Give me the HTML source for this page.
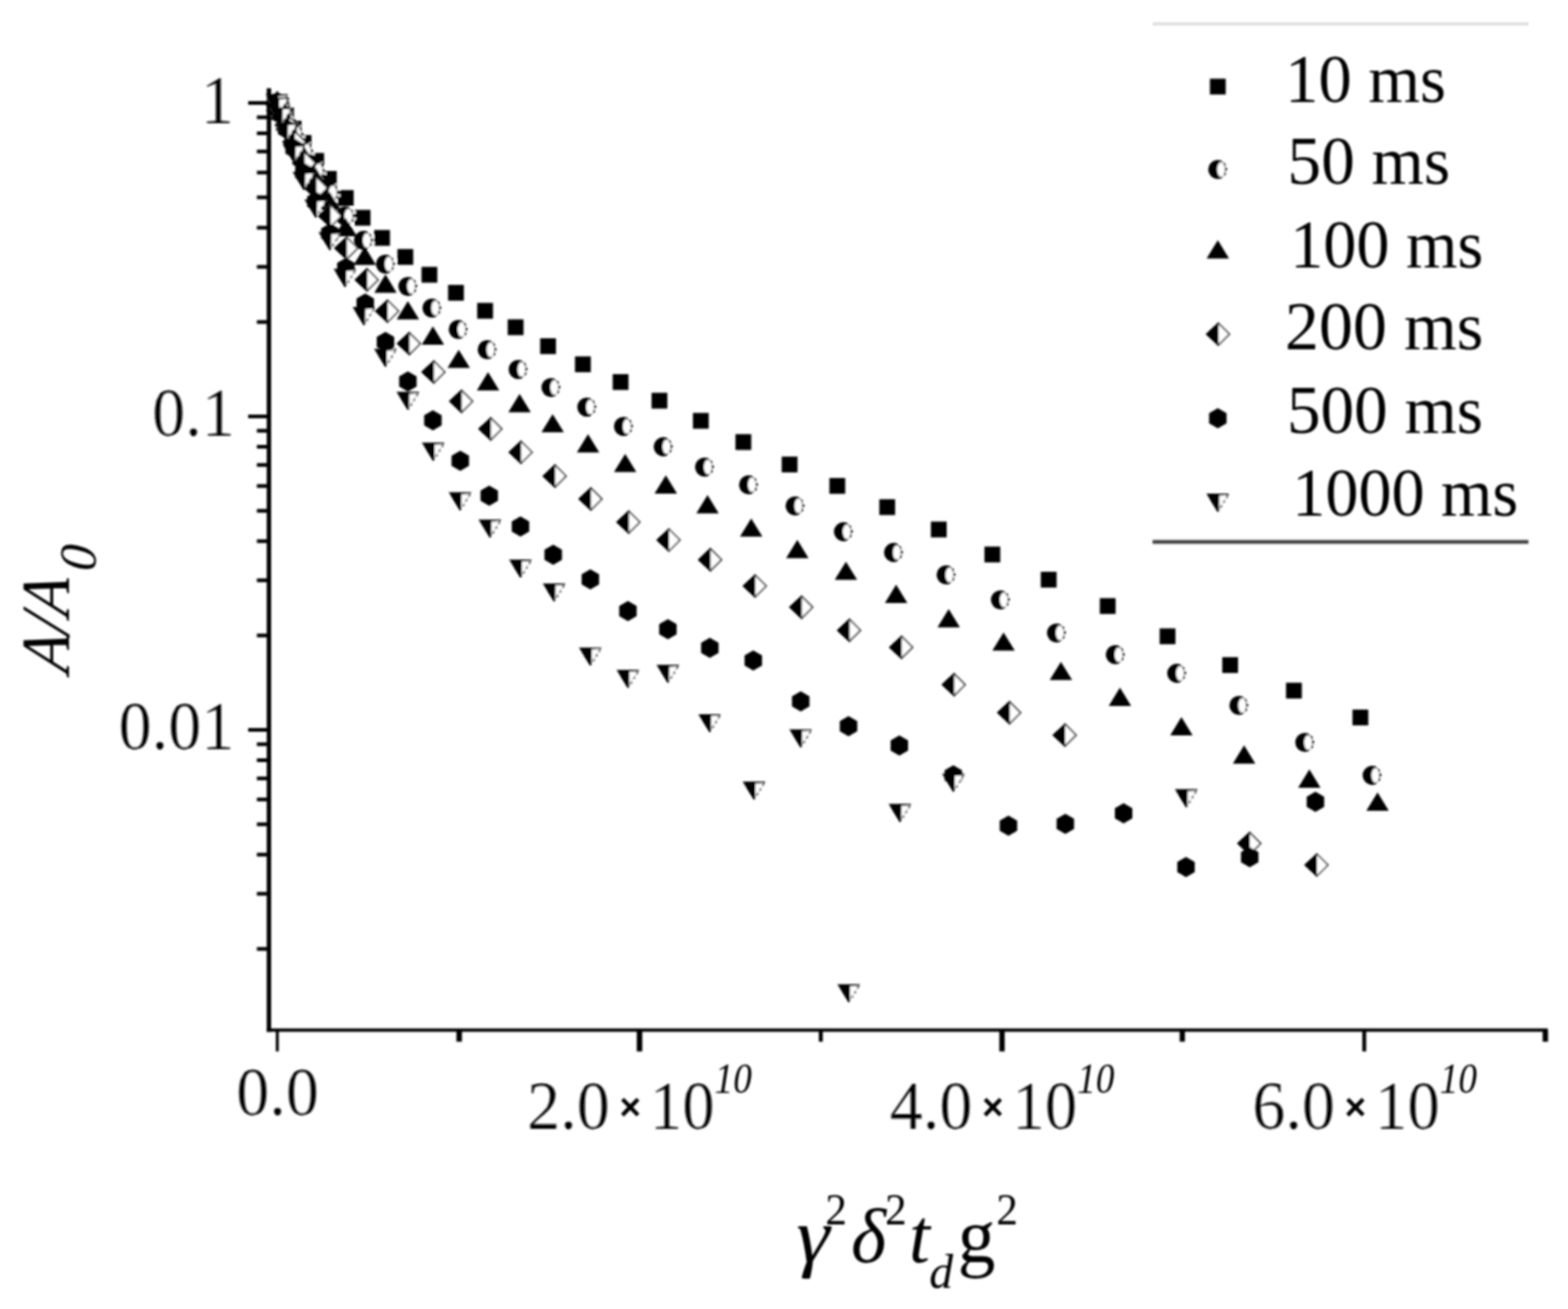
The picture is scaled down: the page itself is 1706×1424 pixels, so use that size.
<!DOCTYPE html>
<html lang="en"><head><meta charset="utf-8"><title>A/A0 versus gamma^2 delta^2 t_d g^2</title>
<style>
html,body{margin:0;padding:0;background:#fff;}
body{width:1706px;height:1424px;overflow:hidden;}
svg{display:block;}
text{font-family:"Liberation Serif","DejaVu Serif",serif;fill:#000;}
.it{font-style:italic;}
.thin text{stroke:#fff;stroke-width:0.22px;}
.thin text.it,.thin text.sans{stroke:none;}
.sans{font-family:"Liberation Sans","DejaVu Sans",sans-serif;}
</style></head><body>
<svg width="1706" height="1424" viewBox="0 0 1706 1424" role="img" aria-label="Semi-log plot of A/A0 versus gamma squared delta squared t d g squared for six diffusion times">
<defs><filter id="soft" x="-2%" y="-2%" width="104%" height="104%"><feGaussianBlur stdDeviation="0.9"/></filter></defs>
<rect width="1706" height="1424" fill="#fff"/>
<g filter="url(#soft)">
<g id="legend-rules">
<rect x="1254" y="24.5" width="409" height="3" fill="#d9d9d9"/>
<rect x="1254" y="587.5" width="409" height="4" fill="#3c3c3c"/>
</g>
<g id="axes" fill="#000">
<rect x="290.2" y="96.0" width="4.8" height="1026.4"/>
<rect x="290.2" y="1118.8" width="1393.8" height="3.6"/>
<rect x="270" y="110.0" width="22.6" height="4"/>
<rect x="279.5" y="125.6" width="13.1" height="4"/>
<rect x="279.5" y="143.0" width="13.1" height="4"/>
<rect x="279.5" y="162.8" width="13.1" height="4"/>
<rect x="279.5" y="185.7" width="13.1" height="4"/>
<rect x="279.5" y="212.7" width="13.1" height="4"/>
<rect x="279.5" y="245.7" width="13.1" height="4"/>
<rect x="279.5" y="288.3" width="13.1" height="4"/>
<rect x="279.5" y="348.3" width="13.1" height="4"/>
<rect x="270" y="451.0" width="22.6" height="4"/>
<rect x="279.5" y="466.6" width="13.1" height="4"/>
<rect x="279.5" y="484.0" width="13.1" height="4"/>
<rect x="279.5" y="503.8" width="13.1" height="4"/>
<rect x="279.5" y="526.7" width="13.1" height="4"/>
<rect x="279.5" y="553.7" width="13.1" height="4"/>
<rect x="279.5" y="586.7" width="13.1" height="4"/>
<rect x="279.5" y="629.3" width="13.1" height="4"/>
<rect x="279.5" y="689.3" width="13.1" height="4"/>
<rect x="270" y="792.0" width="22.6" height="4"/>
<rect x="279.5" y="807.6" width="13.1" height="4"/>
<rect x="279.5" y="825.0" width="13.1" height="4"/>
<rect x="279.5" y="844.8" width="13.1" height="4"/>
<rect x="279.5" y="867.7" width="13.1" height="4"/>
<rect x="279.5" y="894.7" width="13.1" height="4"/>
<rect x="279.5" y="927.7" width="13.1" height="4"/>
<rect x="279.5" y="970.3" width="13.1" height="4"/>
<rect x="279.5" y="1030.3" width="13.1" height="4"/>
<rect x="300.1" y="1120.6" width="3.2" height="23.2"/>
<rect x="496.6" y="1120.6" width="6.0" height="12.6"/>
<rect x="692.8" y="1120.6" width="6.0" height="23.2"/>
<rect x="890.9" y="1120.6" width="4.3" height="12.6"/>
<rect x="1087.3" y="1120.6" width="5.8" height="23.2"/>
<rect x="1283.5" y="1120.6" width="5.7" height="12.6"/>
<rect x="1482.2" y="1120.6" width="4.2" height="23.2"/>
<rect x="1678.4" y="1120.6" width="5.9" height="12.6"/>
</g>
<g id="data">
<g class="series-sq">
<rect x="292.6" y="103.4" width="17.2" height="17.2" fill="#000"/>
<rect x="293.8" y="104.3" width="17.2" height="17.2" fill="#000"/>
<rect x="297.2" y="106.9" width="17.2" height="17.2" fill="#000"/>
<rect x="302.6" y="116.9" width="17.2" height="17.2" fill="#000"/>
<rect x="310.9" y="131.4" width="17.2" height="17.2" fill="#000"/>
<rect x="321.7" y="146.9" width="17.2" height="17.2" fill="#000"/>
<rect x="335.4" y="166.4" width="17.2" height="17.2" fill="#000"/>
<rect x="349.2" y="186.0" width="17.2" height="17.2" fill="#000"/>
<rect x="367.6" y="206.8" width="17.2" height="17.2" fill="#000"/>
<rect x="385.9" y="228.3" width="17.2" height="17.2" fill="#000"/>
<rect x="407.1" y="250.2" width="17.2" height="17.2" fill="#000"/>
<rect x="432.4" y="270.9" width="17.2" height="17.2" fill="#000"/>
<rect x="458.6" y="290.3" width="17.2" height="17.2" fill="#000"/>
<rect x="487.5" y="309.9" width="17.2" height="17.2" fill="#000"/>
<rect x="519.2" y="329.5" width="17.2" height="17.2" fill="#000"/>
<rect x="552.4" y="347.4" width="17.2" height="17.2" fill="#000"/>
<rect x="587.7" y="368.0" width="17.2" height="17.2" fill="#000"/>
<rect x="625.6" y="387.7" width="17.2" height="17.2" fill="#000"/>
<rect x="666.6" y="407.0" width="17.2" height="17.2" fill="#000"/>
<rect x="708.9" y="427.3" width="17.2" height="17.2" fill="#000"/>
<rect x="753.9" y="449.2" width="17.2" height="17.2" fill="#000"/>
<rect x="800.2" y="472.3" width="17.2" height="17.2" fill="#000"/>
<rect x="850.5" y="496.7" width="17.2" height="17.2" fill="#000"/>
<rect x="902.4" y="520.0" width="17.2" height="17.2" fill="#000"/>
<rect x="956.7" y="543.1" width="17.2" height="17.2" fill="#000"/>
<rect x="1012.8" y="567.4" width="17.2" height="17.2" fill="#000"/>
<rect x="1071.1" y="594.6" width="17.2" height="17.2" fill="#000"/>
<rect x="1132.4" y="622.0" width="17.2" height="17.2" fill="#000"/>
<rect x="1196.6" y="650.7" width="17.2" height="17.2" fill="#000"/>
<rect x="1261.7" y="683.6" width="17.2" height="17.2" fill="#000"/>
<rect x="1329.8" y="714.9" width="17.2" height="17.2" fill="#000"/>
<rect x="1399.2" y="742.7" width="17.2" height="17.2" fill="#000"/>
<rect x="1471.5" y="771.9" width="17.2" height="17.2" fill="#000"/>
</g>
<g class="series-ci">
<circle cx="301.2" cy="112.0" r="10.4" fill="#000"/><ellipse cx="304.8" cy="112.0" rx="4.2" ry="7.8" fill="#fff"/><path d="M306.9 103.8A9.6 9.6 0 0 1 306.9 120.2" fill="none" stroke="#fff" stroke-width="4.4" stroke-dasharray="2.2 3.9" stroke-dashoffset="1.0"/>
<circle cx="302.4" cy="114.2" r="10.4" fill="#000"/><ellipse cx="305.9" cy="114.2" rx="4.2" ry="7.8" fill="#fff"/><path d="M308.0 106.0A9.6 9.6 0 0 1 308.0 122.4" fill="none" stroke="#fff" stroke-width="4.4" stroke-dasharray="2.2 3.9" stroke-dashoffset="1.0"/>
<circle cx="305.9" cy="120.8" r="10.4" fill="#000"/><ellipse cx="309.4" cy="120.8" rx="4.2" ry="7.8" fill="#fff"/><path d="M311.5 112.6A9.6 9.6 0 0 1 311.5 129.0" fill="none" stroke="#fff" stroke-width="4.4" stroke-dasharray="2.2 3.9" stroke-dashoffset="1.0"/>
<circle cx="311.7" cy="131.5" r="10.4" fill="#000"/><ellipse cx="315.2" cy="131.5" rx="4.2" ry="7.8" fill="#fff"/><path d="M317.3 123.3A9.6 9.6 0 0 1 317.3 139.7" fill="none" stroke="#fff" stroke-width="4.4" stroke-dasharray="2.2 3.9" stroke-dashoffset="1.0"/>
<circle cx="319.9" cy="146.2" r="10.4" fill="#000"/><ellipse cx="323.4" cy="146.2" rx="4.2" ry="7.8" fill="#fff"/><path d="M325.5 138.0A9.6 9.6 0 0 1 325.5 154.4" fill="none" stroke="#fff" stroke-width="4.4" stroke-dasharray="2.2 3.9" stroke-dashoffset="1.0"/>
<circle cx="330.3" cy="164.5" r="10.4" fill="#000"/><ellipse cx="333.8" cy="164.5" rx="4.2" ry="7.8" fill="#fff"/><path d="M335.9 156.3A9.6 9.6 0 0 1 335.9 172.7" fill="none" stroke="#fff" stroke-width="4.4" stroke-dasharray="2.2 3.9" stroke-dashoffset="1.0"/>
<circle cx="343.1" cy="185.8" r="10.4" fill="#000"/><ellipse cx="346.6" cy="185.8" rx="4.2" ry="7.8" fill="#fff"/><path d="M348.7 177.6A9.6 9.6 0 0 1 348.7 194.0" fill="none" stroke="#fff" stroke-width="4.4" stroke-dasharray="2.2 3.9" stroke-dashoffset="1.0"/>
<circle cx="358.3" cy="209.7" r="10.4" fill="#000"/><ellipse cx="361.8" cy="209.7" rx="4.2" ry="7.8" fill="#fff"/><path d="M363.9 201.5A9.6 9.6 0 0 1 363.9 217.9" fill="none" stroke="#fff" stroke-width="4.4" stroke-dasharray="2.2 3.9" stroke-dashoffset="1.0"/>
<circle cx="375.5" cy="235.0" r="10.4" fill="#000"/><ellipse cx="379.0" cy="235.0" rx="4.2" ry="7.8" fill="#fff"/><path d="M381.1 226.8A9.6 9.6 0 0 1 381.1 243.2" fill="none" stroke="#fff" stroke-width="4.4" stroke-dasharray="2.2 3.9" stroke-dashoffset="1.0"/>
<circle cx="395.5" cy="261.5" r="10.4" fill="#000"/><ellipse cx="399.0" cy="261.5" rx="4.2" ry="7.8" fill="#fff"/><path d="M401.1 253.3A9.6 9.6 0 0 1 401.1 269.7" fill="none" stroke="#fff" stroke-width="4.4" stroke-dasharray="2.2 3.9" stroke-dashoffset="1.0"/>
<circle cx="419.4" cy="287.3" r="10.4" fill="#000"/><ellipse cx="422.9" cy="287.3" rx="4.2" ry="7.8" fill="#fff"/><path d="M425.0 279.1A9.6 9.6 0 0 1 425.0 295.5" fill="none" stroke="#fff" stroke-width="4.4" stroke-dasharray="2.2 3.9" stroke-dashoffset="1.0"/>
<circle cx="443.8" cy="311.6" r="10.4" fill="#000"/><ellipse cx="447.3" cy="311.6" rx="4.2" ry="7.8" fill="#fff"/><path d="M449.4 303.4A9.6 9.6 0 0 1 449.4 319.8" fill="none" stroke="#fff" stroke-width="4.4" stroke-dasharray="2.2 3.9" stroke-dashoffset="1.0"/>
<circle cx="470.0" cy="335.1" r="10.4" fill="#000"/><ellipse cx="473.5" cy="335.1" rx="4.2" ry="7.8" fill="#fff"/><path d="M475.6 326.9A9.6 9.6 0 0 1 475.6 343.3" fill="none" stroke="#fff" stroke-width="4.4" stroke-dasharray="2.2 3.9" stroke-dashoffset="1.0"/>
<circle cx="498.6" cy="358.4" r="10.4" fill="#000"/><ellipse cx="502.1" cy="358.4" rx="4.2" ry="7.8" fill="#fff"/><path d="M504.2 350.2A9.6 9.6 0 0 1 504.2 366.6" fill="none" stroke="#fff" stroke-width="4.4" stroke-dasharray="2.2 3.9" stroke-dashoffset="1.0"/>
<circle cx="530.1" cy="380.4" r="10.4" fill="#000"/><ellipse cx="533.6" cy="380.4" rx="4.2" ry="7.8" fill="#fff"/><path d="M535.7 372.2A9.6 9.6 0 0 1 535.7 388.6" fill="none" stroke="#fff" stroke-width="4.4" stroke-dasharray="2.2 3.9" stroke-dashoffset="1.0"/>
<circle cx="563.8" cy="401.9" r="10.4" fill="#000"/><ellipse cx="567.3" cy="401.9" rx="4.2" ry="7.8" fill="#fff"/><path d="M569.4 393.7A9.6 9.6 0 0 1 569.4 410.1" fill="none" stroke="#fff" stroke-width="4.4" stroke-dasharray="2.2 3.9" stroke-dashoffset="1.0"/>
<circle cx="599.5" cy="421.6" r="10.4" fill="#000"/><ellipse cx="603.0" cy="421.6" rx="4.2" ry="7.8" fill="#fff"/><path d="M605.1 413.4A9.6 9.6 0 0 1 605.1 429.8" fill="none" stroke="#fff" stroke-width="4.4" stroke-dasharray="2.2 3.9" stroke-dashoffset="1.0"/>
<circle cx="638.5" cy="442.8" r="10.4" fill="#000"/><ellipse cx="642.0" cy="442.8" rx="4.2" ry="7.8" fill="#fff"/><path d="M644.1 434.6A9.6 9.6 0 0 1 644.1 451.0" fill="none" stroke="#fff" stroke-width="4.4" stroke-dasharray="2.2 3.9" stroke-dashoffset="1.0"/>
<circle cx="678.4" cy="463.9" r="10.4" fill="#000"/><ellipse cx="681.9" cy="463.9" rx="4.2" ry="7.8" fill="#fff"/><path d="M684.0 455.7A9.6 9.6 0 0 1 684.0 472.1" fill="none" stroke="#fff" stroke-width="4.4" stroke-dasharray="2.2 3.9" stroke-dashoffset="1.0"/>
<circle cx="721.6" cy="486.0" r="10.4" fill="#000"/><ellipse cx="725.1" cy="486.0" rx="4.2" ry="7.8" fill="#fff"/><path d="M727.2 477.8A9.6 9.6 0 0 1 727.2 494.2" fill="none" stroke="#fff" stroke-width="4.4" stroke-dasharray="2.2 3.9" stroke-dashoffset="1.0"/>
<circle cx="766.6" cy="508.1" r="10.4" fill="#000"/><ellipse cx="770.1" cy="508.1" rx="4.2" ry="7.8" fill="#fff"/><path d="M772.2 499.9A9.6 9.6 0 0 1 772.2 516.3" fill="none" stroke="#fff" stroke-width="4.4" stroke-dasharray="2.2 3.9" stroke-dashoffset="1.0"/>
<circle cx="814.5" cy="527.3" r="10.4" fill="#000"/><ellipse cx="818.0" cy="527.3" rx="4.2" ry="7.8" fill="#fff"/><path d="M820.1 519.1A9.6 9.6 0 0 1 820.1 535.5" fill="none" stroke="#fff" stroke-width="4.4" stroke-dasharray="2.2 3.9" stroke-dashoffset="1.0"/>
<circle cx="865.1" cy="550.3" r="10.4" fill="#000"/><ellipse cx="868.6" cy="550.3" rx="4.2" ry="7.8" fill="#fff"/><path d="M870.7 542.1A9.6 9.6 0 0 1 870.7 558.5" fill="none" stroke="#fff" stroke-width="4.4" stroke-dasharray="2.2 3.9" stroke-dashoffset="1.0"/>
<circle cx="917.7" cy="578.5" r="10.4" fill="#000"/><ellipse cx="921.2" cy="578.5" rx="4.2" ry="7.8" fill="#fff"/><path d="M923.3 570.3A9.6 9.6 0 0 1 923.3 586.7" fill="none" stroke="#fff" stroke-width="4.4" stroke-dasharray="2.2 3.9" stroke-dashoffset="1.0"/>
<circle cx="972.2" cy="601.0" r="10.4" fill="#000"/><ellipse cx="975.7" cy="601.0" rx="4.2" ry="7.8" fill="#fff"/><path d="M977.8 592.8A9.6 9.6 0 0 1 977.8 609.2" fill="none" stroke="#fff" stroke-width="4.4" stroke-dasharray="2.2 3.9" stroke-dashoffset="1.0"/>
<circle cx="1029.4" cy="625.4" r="10.4" fill="#000"/><ellipse cx="1032.9" cy="625.4" rx="4.2" ry="7.8" fill="#fff"/><path d="M1035.0 617.2A9.6 9.6 0 0 1 1035.0 633.6" fill="none" stroke="#fff" stroke-width="4.4" stroke-dasharray="2.2 3.9" stroke-dashoffset="1.0"/>
<circle cx="1088.5" cy="652.6" r="10.4" fill="#000"/><ellipse cx="1092.0" cy="652.6" rx="4.2" ry="7.8" fill="#fff"/><path d="M1094.1 644.4A9.6 9.6 0 0 1 1094.1 660.8" fill="none" stroke="#fff" stroke-width="4.4" stroke-dasharray="2.2 3.9" stroke-dashoffset="1.0"/>
<circle cx="1149.5" cy="688.6" r="10.4" fill="#000"/><ellipse cx="1153.0" cy="688.6" rx="4.2" ry="7.8" fill="#fff"/><path d="M1155.1 680.4A9.6 9.6 0 0 1 1155.1 696.8" fill="none" stroke="#fff" stroke-width="4.4" stroke-dasharray="2.2 3.9" stroke-dashoffset="1.0"/>
<circle cx="1213.5" cy="712.2" r="10.4" fill="#000"/><ellipse cx="1217.0" cy="712.2" rx="4.2" ry="7.8" fill="#fff"/><path d="M1219.1 704.0A9.6 9.6 0 0 1 1219.1 720.4" fill="none" stroke="#fff" stroke-width="4.4" stroke-dasharray="2.2 3.9" stroke-dashoffset="1.0"/>
<circle cx="1280.3" cy="732.5" r="10.4" fill="#000"/><ellipse cx="1283.8" cy="732.5" rx="4.2" ry="7.8" fill="#fff"/><path d="M1285.9 724.3A9.6 9.6 0 0 1 1285.9 740.7" fill="none" stroke="#fff" stroke-width="4.4" stroke-dasharray="2.2 3.9" stroke-dashoffset="1.0"/>
<circle cx="1348.0" cy="767.4" r="10.4" fill="#000"/><ellipse cx="1351.5" cy="767.4" rx="4.2" ry="7.8" fill="#fff"/><path d="M1353.6 759.2A9.6 9.6 0 0 1 1353.6 775.6" fill="none" stroke="#fff" stroke-width="4.4" stroke-dasharray="2.2 3.9" stroke-dashoffset="1.0"/>
<circle cx="1419.7" cy="807.7" r="10.4" fill="#000"/><ellipse cx="1423.2" cy="807.7" rx="4.2" ry="7.8" fill="#fff"/><path d="M1425.3 799.5A9.6 9.6 0 0 1 1425.3 815.9" fill="none" stroke="#fff" stroke-width="4.4" stroke-dasharray="2.2 3.9" stroke-dashoffset="1.0"/>
<circle cx="1492.9" cy="843.5" r="10.4" fill="#000"/><ellipse cx="1496.4" cy="843.5" rx="4.2" ry="7.8" fill="#fff"/><path d="M1498.5 835.3A9.6 9.6 0 0 1 1498.5 851.7" fill="none" stroke="#fff" stroke-width="4.4" stroke-dasharray="2.2 3.9" stroke-dashoffset="1.0"/>
</g>
<g class="series-tr">
<path d="M289.1 120.7L313.4 120.7L301.2 100.8Z" fill="#000"/>
<path d="M290.2 123.1L314.6 123.1L302.4 103.2Z" fill="#000"/>
<path d="M293.7 130.3L318.1 130.3L305.9 110.4Z" fill="#000"/>
<path d="M299.6 142.1L324.0 142.1L311.8 122.2Z" fill="#000"/>
<path d="M307.8 158.2L332.2 158.2L320.0 138.3Z" fill="#000"/>
<path d="M318.3 178.3L342.7 178.3L330.5 158.4Z" fill="#000"/>
<path d="M331.2 201.9L355.6 201.9L343.4 182.0Z" fill="#000"/>
<path d="M346.4 228.3L370.8 228.3L358.6 208.4Z" fill="#000"/>
<path d="M363.9 257.0L388.3 257.0L376.1 237.1Z" fill="#000"/>
<path d="M384.7 288.2L409.1 288.2L396.9 268.3Z" fill="#000"/>
<path d="M407.2 318.5L431.6 318.5L419.4 298.6Z" fill="#000"/>
<path d="M431.6 347.5L456.0 347.5L443.8 327.6Z" fill="#000"/>
<path d="M458.8 375.0L483.2 375.0L471.0 355.1Z" fill="#000"/>
<path d="M486.9 400.3L511.3 400.3L499.1 380.4Z" fill="#000"/>
<path d="M518.8 424.7L543.2 424.7L531.0 404.8Z" fill="#000"/>
<path d="M553.1 448.5L577.5 448.5L565.3 428.6Z" fill="#000"/>
<path d="M589.1 470.3L613.5 470.3L601.3 450.4Z" fill="#000"/>
<path d="M627.6 492.2L652.0 492.2L639.8 472.3Z" fill="#000"/>
<path d="M668.0 513.6L692.4 513.6L680.2 493.7Z" fill="#000"/>
<path d="M712.2 536.9L736.6 536.9L724.4 517.0Z" fill="#000"/>
<path d="M757.6 558.5L782.0 558.5L769.8 538.6Z" fill="#000"/>
<path d="M805.1 583.8L829.5 583.8L817.3 563.9Z" fill="#000"/>
<path d="M855.3 607.2L879.7 607.2L867.5 587.3Z" fill="#000"/>
<path d="M908.2 630.8L932.6 630.8L920.4 610.9Z" fill="#000"/>
<path d="M962.8 656.0L987.2 656.0L975.0 636.1Z" fill="#000"/>
<path d="M1020.0 682.5L1044.4 682.5L1032.2 662.6Z" fill="#000"/>
<path d="M1079.7 707.8L1104.1 707.8L1091.9 687.9Z" fill="#000"/>
<path d="M1142.1 739.8L1166.5 739.8L1154.3 719.9Z" fill="#000"/>
<path d="M1206.3 768.0L1230.7 768.0L1218.5 748.1Z" fill="#000"/>
<path d="M1273.2 799.9L1297.6 799.9L1285.4 780.0Z" fill="#000"/>
<path d="M1341.4 830.7L1365.8 830.7L1353.6 810.8Z" fill="#000"/>
<path d="M1412.4 857.0L1436.8 857.0L1424.6 837.1Z" fill="#000"/>
<path d="M1486.6 882.0L1511.0 882.0L1498.8 862.1Z" fill="#000"/>
</g>
<g class="series-di">
<path d="M301.2 99.5L313.8 112.0L301.2 124.5L288.8 112.0Z" fill="#fff"/><path d="M302.1 98.7L302.1 125.3L287.9 112.0Z" fill="#000"/><path d="M301.2 99.5L313.8 112.0L301.2 124.5" fill="none" stroke="#2a2a2a" stroke-width="1.7"/>
<path d="M302.4 102.2L314.9 114.7L302.4 127.2L289.9 114.7Z" fill="#fff"/><path d="M303.2 101.4L303.2 128.0L289.1 114.7Z" fill="#000"/><path d="M302.4 102.2L314.9 114.7L302.4 127.2" fill="none" stroke="#2a2a2a" stroke-width="1.7"/>
<path d="M306.0 110.4L318.5 122.9L306.0 135.4L293.5 122.9Z" fill="#fff"/><path d="M306.8 109.6L306.8 136.2L292.7 122.9Z" fill="#000"/><path d="M306.0 110.4L318.5 122.9L306.0 135.4" fill="none" stroke="#2a2a2a" stroke-width="1.7"/>
<path d="M311.8 123.7L324.3 136.2L311.8 148.7L299.3 136.2Z" fill="#fff"/><path d="M312.6 122.9L312.6 149.5L298.5 136.2Z" fill="#000"/><path d="M311.8 123.7L324.3 136.2L311.8 148.7" fill="none" stroke="#2a2a2a" stroke-width="1.7"/>
<path d="M320.1 142.1L332.6 154.6L320.1 167.1L307.6 154.6Z" fill="#fff"/><path d="M320.9 141.3L320.9 167.9L306.8 154.6Z" fill="#000"/><path d="M320.1 142.1L332.6 154.6L320.1 167.1" fill="none" stroke="#2a2a2a" stroke-width="1.7"/>
<path d="M330.7 165.0L343.2 177.5L330.7 190.0L318.2 177.5Z" fill="#fff"/><path d="M331.5 164.2L331.5 190.8L317.4 177.5Z" fill="#000"/><path d="M330.7 165.0L343.2 177.5L330.7 190.0" fill="none" stroke="#2a2a2a" stroke-width="1.7"/>
<path d="M343.6 192.0L356.1 204.5L343.6 217.0L331.1 204.5Z" fill="#fff"/><path d="M344.4 191.2L344.4 217.8L330.3 204.5Z" fill="#000"/><path d="M343.6 192.0L356.1 204.5L343.6 217.0" fill="none" stroke="#2a2a2a" stroke-width="1.7"/>
<path d="M358.9 222.5L371.4 235.0L358.9 247.5L346.4 235.0Z" fill="#fff"/><path d="M359.7 221.7L359.7 248.3L345.6 235.0Z" fill="#000"/><path d="M358.9 222.5L371.4 235.0L358.9 247.5" fill="none" stroke="#2a2a2a" stroke-width="1.7"/>
<path d="M376.6 257.5L389.1 270.0L376.6 282.5L364.1 270.0Z" fill="#fff"/><path d="M377.4 256.7L377.4 283.3L363.3 270.0Z" fill="#000"/><path d="M376.6 257.5L389.1 270.0L376.6 282.5" fill="none" stroke="#2a2a2a" stroke-width="1.7"/>
<path d="M398.8 291.9L411.3 304.4L398.8 316.9L386.3 304.4Z" fill="#fff"/><path d="M399.6 291.1L399.6 317.7L385.5 304.4Z" fill="#000"/><path d="M398.8 291.9L411.3 304.4L398.8 316.9" fill="none" stroke="#2a2a2a" stroke-width="1.7"/>
<path d="M421.0 326.0L433.5 338.5L421.0 351.0L408.5 338.5Z" fill="#fff"/><path d="M421.8 325.2L421.8 351.8L407.7 338.5Z" fill="#000"/><path d="M421.0 326.0L433.5 338.5L421.0 351.0" fill="none" stroke="#2a2a2a" stroke-width="1.7"/>
<path d="M444.7 361.3L457.2 373.8L444.7 386.3L432.2 373.8Z" fill="#fff"/><path d="M445.5 360.5L445.5 387.1L431.4 373.8Z" fill="#000"/><path d="M444.7 361.3L457.2 373.8L444.7 386.3" fill="none" stroke="#2a2a2a" stroke-width="1.7"/>
<path d="M471.4 392.2L483.9 404.7L471.4 417.2L458.9 404.7Z" fill="#fff"/><path d="M472.2 391.4L472.2 418.0L458.1 404.7Z" fill="#000"/><path d="M471.4 392.2L483.9 404.7L471.4 417.2" fill="none" stroke="#2a2a2a" stroke-width="1.7"/>
<path d="M501.6 424.1L514.1 436.6L501.6 449.1L489.1 436.6Z" fill="#fff"/><path d="M502.4 423.3L502.4 449.9L488.3 436.6Z" fill="#000"/><path d="M501.6 424.1L514.1 436.6L501.6 449.1" fill="none" stroke="#2a2a2a" stroke-width="1.7"/>
<path d="M533.4 454.1L545.9 466.6L533.4 479.1L520.9 466.6Z" fill="#fff"/><path d="M534.2 453.3L534.2 479.9L520.1 466.6Z" fill="#000"/><path d="M533.4 454.1L545.9 466.6L533.4 479.1" fill="none" stroke="#2a2a2a" stroke-width="1.7"/>
<path d="M566.3 479.5L578.8 492.0L566.3 504.5L553.8 492.0Z" fill="#fff"/><path d="M567.1 478.7L567.1 505.3L553.0 492.0Z" fill="#000"/><path d="M566.3 479.5L578.8 492.0L566.3 504.5" fill="none" stroke="#2a2a2a" stroke-width="1.7"/>
<path d="M603.3 505.4L615.8 517.9L603.3 530.4L590.8 517.9Z" fill="#fff"/><path d="M604.1 504.6L604.1 531.2L590.0 517.9Z" fill="#000"/><path d="M603.3 505.4L615.8 517.9L603.3 530.4" fill="none" stroke="#2a2a2a" stroke-width="1.7"/>
<path d="M642.3 530.3L654.8 542.8L642.3 555.3L629.8 542.8Z" fill="#fff"/><path d="M643.1 529.5L643.1 556.1L629.0 542.8Z" fill="#000"/><path d="M642.3 530.3L654.8 542.8L642.3 555.3" fill="none" stroke="#2a2a2a" stroke-width="1.7"/>
<path d="M683.5 555.5L696.0 568.0L683.5 580.5L671.0 568.0Z" fill="#fff"/><path d="M684.3 554.7L684.3 581.3L670.2 568.0Z" fill="#000"/><path d="M683.5 555.5L696.0 568.0L683.5 580.5" fill="none" stroke="#2a2a2a" stroke-width="1.7"/>
<path d="M727.2 575.0L739.7 587.5L727.2 600.0L714.7 587.5Z" fill="#fff"/><path d="M728.0 574.2L728.0 600.8L713.9 587.5Z" fill="#000"/><path d="M727.2 575.0L739.7 587.5L727.2 600.0" fill="none" stroke="#2a2a2a" stroke-width="1.7"/>
<path d="M772.4 596.4L784.9 608.9L772.4 621.4L759.9 608.9Z" fill="#fff"/><path d="M773.2 595.6L773.2 622.2L759.1 608.9Z" fill="#000"/><path d="M772.4 596.4L784.9 608.9L772.4 621.4" fill="none" stroke="#2a2a2a" stroke-width="1.7"/>
<path d="M821.0 625.0L833.5 637.5L821.0 650.0L808.5 637.5Z" fill="#fff"/><path d="M821.8 624.2L821.8 650.8L807.7 637.5Z" fill="#000"/><path d="M821.0 625.0L833.5 637.5L821.0 650.0" fill="none" stroke="#2a2a2a" stroke-width="1.7"/>
<path d="M871.6 648.1L884.1 660.6L871.6 673.1L859.1 660.6Z" fill="#fff"/><path d="M872.4 647.3L872.4 673.9L858.3 660.6Z" fill="#000"/><path d="M871.6 648.1L884.1 660.6L871.6 673.1" fill="none" stroke="#2a2a2a" stroke-width="1.7"/>
<path d="M923.6 673.2L936.1 685.7L923.6 698.2L911.1 685.7Z" fill="#fff"/><path d="M924.4 672.4L924.4 699.0L910.3 685.7Z" fill="#000"/><path d="M923.6 673.2L936.1 685.7L923.6 698.2" fill="none" stroke="#2a2a2a" stroke-width="1.7"/>
<path d="M980.3 691.7L992.8 704.2L980.3 716.7L967.8 704.2Z" fill="#fff"/><path d="M981.1 690.9L981.1 717.5L967.0 704.2Z" fill="#000"/><path d="M980.3 691.7L992.8 704.2L980.3 716.7" fill="none" stroke="#2a2a2a" stroke-width="1.7"/>
<path d="M1037.5 732.3L1050.0 744.8L1037.5 757.3L1025.0 744.8Z" fill="#fff"/><path d="M1038.3 731.5L1038.3 758.1L1024.2 744.8Z" fill="#000"/><path d="M1037.5 732.3L1050.0 744.8L1037.5 757.3" fill="none" stroke="#2a2a2a" stroke-width="1.7"/>
<path d="M1097.8 762.8L1110.3 775.3L1097.8 787.8L1085.3 775.3Z" fill="#fff"/><path d="M1098.6 762.0L1098.6 788.6L1084.5 775.3Z" fill="#000"/><path d="M1097.8 762.8L1110.3 775.3L1097.8 787.8" fill="none" stroke="#2a2a2a" stroke-width="1.7"/>
<path d="M1158.2 787.2L1170.7 799.7L1158.2 812.2L1145.7 799.7Z" fill="#fff"/><path d="M1159.0 786.4L1159.0 813.0L1144.9 799.7Z" fill="#000"/><path d="M1158.2 787.2L1170.7 799.7L1158.2 812.2" fill="none" stroke="#2a2a2a" stroke-width="1.7"/>
<path d="M1359.1 905.1L1371.6 917.6L1359.1 930.1L1346.6 917.6Z" fill="#fff"/><path d="M1359.9 904.3L1359.9 930.9L1345.8 917.6Z" fill="#000"/><path d="M1359.1 905.1L1371.6 917.6L1359.1 930.1" fill="none" stroke="#2a2a2a" stroke-width="1.7"/>
<path d="M1432.2 928.5L1444.7 941.0L1432.2 953.5L1419.7 941.0Z" fill="#fff"/><path d="M1433.0 927.7L1433.0 954.3L1418.9 941.0Z" fill="#000"/><path d="M1432.2 928.5L1444.7 941.0L1432.2 953.5" fill="none" stroke="#2a2a2a" stroke-width="1.7"/>
</g>
<g class="series-hx">
<path d="M301.2 101.0L310.8 106.5L310.8 117.5L301.2 123.0L291.7 117.5L291.7 106.5Z" fill="#000"/>
<path d="M302.4 104.2L312.0 109.7L312.0 120.7L302.4 126.2L292.9 120.7L292.9 109.7Z" fill="#000"/>
<path d="M306.0 113.7L315.5 119.2L315.5 130.2L306.0 135.7L296.4 130.2L296.4 119.2Z" fill="#000"/>
<path d="M311.8 129.2L321.4 134.7L321.4 145.7L311.8 151.2L302.3 145.7L302.3 134.7Z" fill="#000"/>
<path d="M320.1 150.5L329.6 156.0L329.6 167.0L320.1 172.5L310.5 167.0L310.5 156.0Z" fill="#000"/>
<path d="M330.7 177.0L340.2 182.5L340.2 193.5L330.7 199.0L321.1 193.5L321.1 182.5Z" fill="#000"/>
<path d="M343.6 208.2L353.1 213.7L353.1 224.7L343.6 230.2L334.1 224.7L334.1 213.7Z" fill="#000"/>
<path d="M358.9 243.1L368.4 248.6L368.4 259.6L358.9 265.1L349.4 259.6L349.4 248.6Z" fill="#000"/>
<path d="M376.3 280.6L385.8 286.1L385.8 297.1L376.3 302.6L366.8 297.1L366.8 286.1Z" fill="#000"/>
<path d="M397.4 319.3L406.9 324.8L406.9 335.8L397.4 341.3L387.9 335.8L387.9 324.8Z" fill="#000"/>
<path d="M419.4 360.9L428.9 366.4L428.9 377.4L419.4 382.9L409.9 377.4L409.9 366.4Z" fill="#000"/>
<path d="M443.8 404.1L453.3 409.6L453.3 420.6L443.8 426.1L434.3 420.6L434.3 409.6Z" fill="#000"/>
<path d="M471.0 446.3L480.5 451.8L480.5 462.8L471.0 468.3L461.5 462.8L461.5 451.8Z" fill="#000"/>
<path d="M500.8 490.2L510.3 495.7L510.3 506.7L500.8 512.2L491.3 506.7L491.3 495.7Z" fill="#000"/>
<path d="M532.3 528.2L541.8 533.7L541.8 544.7L532.3 550.2L522.8 544.7L522.8 533.7Z" fill="#000"/>
<path d="M566.3 561.8L575.8 567.3L575.8 578.3L566.3 583.8L556.8 578.3L556.8 567.3Z" fill="#000"/>
<path d="M601.9 592.5L611.4 598.0L611.4 609.0L601.9 614.5L592.4 609.0L592.4 598.0Z" fill="#000"/>
<path d="M642.3 619.2L651.8 624.7L651.8 635.7L642.3 641.2L632.8 635.7L632.8 624.7Z" fill="#000"/>
<path d="M683.2 653.7L692.7 659.2L692.7 670.2L683.2 675.7L673.7 670.2L673.7 659.2Z" fill="#000"/>
<path d="M726.7 673.4L736.2 678.9L736.2 689.9L726.7 695.4L717.2 689.9L717.2 678.9Z" fill="#000"/>
<path d="M772.3 693.8L781.8 699.3L781.8 710.3L772.3 715.8L762.8 710.3L762.8 699.3Z" fill="#000"/>
<path d="M819.6 707.4L829.1 712.9L829.1 723.9L819.6 729.4L810.1 723.9L810.1 712.9Z" fill="#000"/>
<path d="M871.2 751.9L880.7 757.4L880.7 768.4L871.2 773.9L861.7 768.4L861.7 757.4Z" fill="#000"/>
<path d="M923.2 779.1L932.7 784.6L932.7 795.6L923.2 801.1L913.7 795.6L913.7 784.6Z" fill="#000"/>
<path d="M978.5 800.1L988.0 805.6L988.0 816.6L978.5 822.1L969.0 816.6L969.0 805.6Z" fill="#000"/>
<path d="M1037.2 832.5L1046.7 838.0L1046.7 849.0L1037.2 854.5L1027.7 849.0L1027.7 838.0Z" fill="#000"/>
<path d="M1097.2 887.2L1106.7 892.7L1106.7 903.7L1097.2 909.2L1087.7 903.7L1087.7 892.7Z" fill="#000"/>
<path d="M1159.1 885.3L1168.6 890.8L1168.6 901.8L1159.1 907.3L1149.6 901.8L1149.6 890.8Z" fill="#000"/>
<path d="M1222.5 873.7L1232.0 879.2L1232.0 890.2L1222.5 895.7L1213.0 890.2L1213.0 879.2Z" fill="#000"/>
<path d="M1290.4 932.2L1299.9 937.7L1299.9 948.7L1290.4 954.2L1280.9 948.7L1280.9 937.7Z" fill="#000"/>
<path d="M1359.7 921.6L1369.2 927.1L1369.2 938.1L1359.7 943.6L1350.2 938.1L1350.2 927.1Z" fill="#000"/>
<path d="M1431.2 861.3L1440.7 866.8L1440.7 877.8L1431.2 883.3L1421.7 877.8L1421.7 866.8Z" fill="#000"/>
</g>
<g class="series-iv">
<path d="M289.2 103.6L313.2 103.6L301.2 121.6Z" fill="#fff"/><path d="M288.8 102.6L313.6 102.6L312.6 104.3L302.9 104.8L302.6 119.1L301.6 122.4L300.9 122.4Z" fill="#000"/><path d="M312.1 104.6L302.2 120.6" fill="none" stroke="#111" stroke-width="1.5" stroke-dasharray="3.5 2.5"/>
<path d="M290.4 107.1L314.4 107.1L302.4 125.1Z" fill="#fff"/><path d="M289.9 106.1L314.7 106.1L313.8 107.8L304.0 108.3L303.8 122.6L302.8 125.9L302.0 125.9Z" fill="#000"/><path d="M313.2 108.1L303.4 124.1" fill="none" stroke="#111" stroke-width="1.5" stroke-dasharray="3.5 2.5"/>
<path d="M294.0 117.7L318.0 117.7L306.0 135.7Z" fill="#fff"/><path d="M293.5 116.7L318.3 116.7L317.4 118.4L307.6 118.9L307.4 133.2L306.4 136.5L305.6 136.5Z" fill="#000"/><path d="M316.8 118.7L307.0 134.7" fill="none" stroke="#111" stroke-width="1.5" stroke-dasharray="3.5 2.5"/>
<path d="M299.8 135.0L323.8 135.0L311.8 153.0Z" fill="#fff"/><path d="M299.3 134.0L324.1 134.0L323.2 135.7L313.4 136.2L313.2 150.5L312.2 153.8L311.4 153.8Z" fill="#000"/><path d="M322.6 136.0L312.8 152.0" fill="none" stroke="#111" stroke-width="1.5" stroke-dasharray="3.5 2.5"/>
<path d="M308.1 158.6L332.1 158.6L320.1 176.6Z" fill="#fff"/><path d="M307.6 157.6L332.4 157.6L331.5 159.3L321.7 159.8L321.5 174.1L320.5 177.4L319.7 177.4Z" fill="#000"/><path d="M330.9 159.6L321.1 175.6" fill="none" stroke="#111" stroke-width="1.5" stroke-dasharray="3.5 2.5"/>
<path d="M318.7 188.1L342.7 188.1L330.7 206.1Z" fill="#fff"/><path d="M318.2 187.1L343.0 187.1L342.1 188.8L332.3 189.3L332.1 203.6L331.1 206.9L330.3 206.9Z" fill="#000"/><path d="M341.5 189.1L331.7 205.1" fill="none" stroke="#111" stroke-width="1.5" stroke-dasharray="3.5 2.5"/>
<path d="M331.6 218.1L355.6 218.1L343.6 236.1Z" fill="#fff"/><path d="M331.1 217.1L355.9 217.1L355.0 218.8L345.2 219.3L345.0 233.6L344.0 236.9L343.2 236.9Z" fill="#000"/><path d="M354.4 219.1L344.6 235.1" fill="none" stroke="#111" stroke-width="1.5" stroke-dasharray="3.5 2.5"/>
<path d="M346.9 253.6L370.9 253.6L358.9 271.6Z" fill="#fff"/><path d="M346.4 252.6L371.2 252.6L370.3 254.3L360.5 254.8L360.3 269.1L359.3 272.4L358.5 272.4Z" fill="#000"/><path d="M369.7 254.6L359.9 270.6" fill="none" stroke="#111" stroke-width="1.5" stroke-dasharray="3.5 2.5"/>
<path d="M363.4 293.6L387.4 293.6L375.4 311.6Z" fill="#fff"/><path d="M362.9 292.6L387.7 292.6L386.8 294.3L377.0 294.8L376.8 309.1L375.8 312.4L375.0 312.4Z" fill="#000"/><path d="M386.2 294.6L376.4 310.6" fill="none" stroke="#111" stroke-width="1.5" stroke-dasharray="3.5 2.5"/>
<path d="M384.0 335.1L408.0 335.1L396.0 353.1Z" fill="#fff"/><path d="M383.5 334.1L408.3 334.1L407.4 335.8L397.6 336.3L397.4 350.6L396.4 353.9L395.6 353.9Z" fill="#000"/><path d="M406.8 336.1L397.0 352.1" fill="none" stroke="#111" stroke-width="1.5" stroke-dasharray="3.5 2.5"/>
<path d="M407.4 380.4L431.4 380.4L419.4 398.4Z" fill="#fff"/><path d="M406.9 379.4L431.7 379.4L430.8 381.1L421.0 381.6L420.8 395.9L419.8 399.2L419.0 399.2Z" fill="#000"/><path d="M430.2 381.4L420.4 397.4" fill="none" stroke="#111" stroke-width="1.5" stroke-dasharray="3.5 2.5"/>
<path d="M431.8 427.3L455.8 427.3L443.8 445.3Z" fill="#fff"/><path d="M431.3 426.3L456.1 426.3L455.2 428.0L445.4 428.5L445.2 442.8L444.2 446.1L443.4 446.1Z" fill="#000"/><path d="M454.6 428.3L444.8 444.3" fill="none" stroke="#111" stroke-width="1.5" stroke-dasharray="3.5 2.5"/>
<path d="M459.4 482.6L483.4 482.6L471.4 500.6Z" fill="#fff"/><path d="M458.9 481.6L483.7 481.6L482.8 483.3L473.0 483.8L472.8 498.1L471.8 501.4L471.0 501.4Z" fill="#000"/><path d="M482.2 483.6L472.4 499.6" fill="none" stroke="#111" stroke-width="1.5" stroke-dasharray="3.5 2.5"/>
<path d="M488.6 536.6L512.6 536.6L500.6 554.6Z" fill="#fff"/><path d="M488.1 535.6L512.9 535.6L512.0 537.3L502.2 537.8L502.0 552.1L501.0 555.4L500.2 555.4Z" fill="#000"/><path d="M511.4 537.6L501.6 553.6" fill="none" stroke="#111" stroke-width="1.5" stroke-dasharray="3.5 2.5"/>
<path d="M521.1 566.3L545.1 566.3L533.1 584.3Z" fill="#fff"/><path d="M520.6 565.3L545.4 565.3L544.5 567.0L534.7 567.5L534.5 581.8L533.5 585.1L532.7 585.1Z" fill="#000"/><path d="M543.9 567.3L534.1 583.3" fill="none" stroke="#111" stroke-width="1.5" stroke-dasharray="3.5 2.5"/>
<path d="M554.3 609.8L578.3 609.8L566.3 627.8Z" fill="#fff"/><path d="M553.8 608.8L578.6 608.8L577.7 610.5L567.9 611.0L567.7 625.3L566.7 628.6L565.9 628.6Z" fill="#000"/><path d="M577.1 610.8L567.3 626.8" fill="none" stroke="#111" stroke-width="1.5" stroke-dasharray="3.5 2.5"/>
<path d="M590.9 635.7L614.9 635.7L602.9 653.7Z" fill="#fff"/><path d="M590.4 634.7L615.2 634.7L614.3 636.4L604.5 636.9L604.3 651.2L603.3 654.5L602.5 654.5Z" fill="#000"/><path d="M613.7 636.7L603.9 652.7" fill="none" stroke="#111" stroke-width="1.5" stroke-dasharray="3.5 2.5"/>
<path d="M630.3 705.4L654.3 705.4L642.3 723.4Z" fill="#fff"/><path d="M629.8 704.4L654.6 704.4L653.7 706.1L643.9 706.6L643.7 720.9L642.7 724.2L641.9 724.2Z" fill="#000"/><path d="M653.1 706.4L643.3 722.4" fill="none" stroke="#111" stroke-width="1.5" stroke-dasharray="3.5 2.5"/>
<path d="M671.2 729.8L695.2 729.8L683.2 747.8Z" fill="#fff"/><path d="M670.7 728.8L695.5 728.8L694.6 730.5L684.8 731.0L684.6 745.3L683.6 748.6L682.8 748.6Z" fill="#000"/><path d="M694.0 730.8L684.2 746.8" fill="none" stroke="#111" stroke-width="1.5" stroke-dasharray="3.5 2.5"/>
<path d="M714.7 724.2L738.7 724.2L726.7 742.2Z" fill="#fff"/><path d="M714.2 723.2L739.0 723.2L738.1 724.9L728.3 725.4L728.1 739.7L727.1 743.0L726.3 743.0Z" fill="#000"/><path d="M737.5 725.2L727.7 741.2" fill="none" stroke="#111" stroke-width="1.5" stroke-dasharray="3.5 2.5"/>
<path d="M760.2 777.9L784.2 777.9L772.2 795.9Z" fill="#fff"/><path d="M759.7 776.9L784.5 776.9L783.6 778.6L773.8 779.1L773.6 793.4L772.6 796.7L771.8 796.7Z" fill="#000"/><path d="M783.0 778.9L773.2 794.9" fill="none" stroke="#111" stroke-width="1.5" stroke-dasharray="3.5 2.5"/>
<path d="M808.4 851.2L832.4 851.2L820.4 869.2Z" fill="#fff"/><path d="M807.9 850.2L832.7 850.2L831.8 851.9L822.0 852.4L821.8 866.7L820.8 870.0L820.0 870.0Z" fill="#000"/><path d="M831.2 852.2L821.4 868.2" fill="none" stroke="#111" stroke-width="1.5" stroke-dasharray="3.5 2.5"/>
<path d="M859.2 794.4L883.2 794.4L871.2 812.4Z" fill="#fff"/><path d="M858.7 793.4L883.5 793.4L882.6 795.1L872.8 795.6L872.6 809.9L871.6 813.2L870.8 813.2Z" fill="#000"/><path d="M882.0 795.4L872.2 811.4" fill="none" stroke="#111" stroke-width="1.5" stroke-dasharray="3.5 2.5"/>
<path d="M911.5 1071.7L935.5 1071.7L923.5 1089.7Z" fill="#fff"/><path d="M911.0 1070.7L935.8 1070.7L934.9 1072.4L925.1 1072.9L924.9 1087.2L923.9 1090.5L923.1 1090.5Z" fill="#000"/><path d="M934.3 1072.7L924.5 1088.7" fill="none" stroke="#111" stroke-width="1.5" stroke-dasharray="3.5 2.5"/>
<path d="M967.2 875.6L991.2 875.6L979.2 893.6Z" fill="#fff"/><path d="M966.7 874.6L991.5 874.6L990.6 876.3L980.8 876.8L980.6 891.1L979.6 894.4L978.8 894.4Z" fill="#000"/><path d="M990.0 876.6L980.2 892.6" fill="none" stroke="#111" stroke-width="1.5" stroke-dasharray="3.5 2.5"/>
<path d="M1025.3 842.8L1049.3 842.8L1037.3 860.8Z" fill="#fff"/><path d="M1024.8 841.8L1049.6 841.8L1048.7 843.5L1038.9 844.0L1038.7 858.3L1037.7 861.6L1036.9 861.6Z" fill="#000"/><path d="M1048.1 843.8L1038.3 859.8" fill="none" stroke="#111" stroke-width="1.5" stroke-dasharray="3.5 2.5"/>
<path d="M1278.7 859.6L1302.7 859.6L1290.7 877.6Z" fill="#fff"/><path d="M1278.2 858.6L1303.0 858.6L1302.1 860.3L1292.3 860.8L1292.1 875.1L1291.1 878.4L1290.3 878.4Z" fill="#000"/><path d="M1301.5 860.6L1291.7 876.6" fill="none" stroke="#111" stroke-width="1.5" stroke-dasharray="3.5 2.5"/>
</g>
</g>
<g id="legend">
<rect x="1316.4" y="85.6" width="17.2" height="17.2" fill="#000"/>
<text transform="translate(1398.2 110.9) scale(1.006 1.040)" font-size="72">10 ms</text>
<circle cx="1325.0" cy="184.4" r="10.4" fill="#000"/><ellipse cx="1328.5" cy="184.4" rx="4.2" ry="7.8" fill="#fff"/><path d="M1330.6 176.2A9.6 9.6 0 0 1 1330.6 192.6" fill="none" stroke="#fff" stroke-width="4.4" stroke-dasharray="2.2 3.9" stroke-dashoffset="1.0"/>
<text transform="translate(1400.8 200.0) scale(1.017 1.040)" font-size="72">50 ms</text>
<path d="M1312.8 281.2L1337.2 281.2L1325.0 261.3Z" fill="#000"/>
<text transform="translate(1403.7 290.5) scale(1.000 1.040)" font-size="72">100 ms</text>
<path d="M1325.0 351.0L1337.5 363.5L1325.0 376.0L1312.5 363.5Z" fill="#fff"/><path d="M1325.8 350.2L1325.8 376.8L1311.7 363.5Z" fill="#000"/><path d="M1325.0 351.0L1337.5 363.5L1325.0 376.0" fill="none" stroke="#2a2a2a" stroke-width="1.7"/>
<text transform="translate(1398.1 380.4) scale(1.027 1.040)" font-size="72">200 ms</text>
<path d="M1325.0 444.0L1334.5 449.5L1334.5 460.5L1325.0 466.0L1315.5 460.5L1315.5 449.5Z" fill="#000"/>
<text transform="translate(1400.3 470.9) scale(1.015 1.040)" font-size="72">500 ms</text>
<path d="M1313.0 538.1L1337.0 538.1L1325.0 556.1Z" fill="#fff"/><path d="M1312.5 537.1L1337.3 537.1L1336.4 538.8L1326.6 539.3L1326.4 553.6L1325.4 556.9L1324.6 556.9Z" fill="#000"/><path d="M1335.8 539.1L1326.0 555.1" fill="none" stroke="#111" stroke-width="1.5" stroke-dasharray="3.5 2.5"/>
<text transform="translate(1405.9 561.0) scale(1.000 1.040)" font-size="72">1000 ms</text>
</g>
<g id="ylabels" class="thin">
<text transform="translate(254.5 133.6) scale(1.000 1.020)" font-size="72" text-anchor="end">1</text>
<text transform="translate(255.5 474.3) scale(1.000 1.020)" font-size="72" text-anchor="end">0.1</text>
<text transform="translate(255.0 814.6) scale(1.000 1.020)" font-size="72" text-anchor="end">0.01</text>
</g>
<g id="xlabels" class="thin">
<text transform="translate(302.0 1213.0) scale(1.000 1.020)" font-size="72" text-anchor="middle">0.0</text>
<text transform="translate(573.6 1228.0) scale(1.000 1.020)" font-size="72">2.0</text>
<text transform="translate(674.1 1218.0) scale(1.000 1.000)" font-size="40" class="sans" font-weight="bold">×</text>
<text transform="translate(707.1 1228.0) scale(0.980 1.020)" font-size="72">10</text>
<text transform="translate(777.6 1188.5) scale(0.880 1.000)" font-size="46" class="it">10</text>
<text transform="translate(968.0 1228.0) scale(1.000 1.020)" font-size="72">4.0</text>
<text transform="translate(1068.5 1218.0) scale(1.000 1.000)" font-size="40" class="sans" font-weight="bold">×</text>
<text transform="translate(1101.5 1228.0) scale(0.980 1.020)" font-size="72">10</text>
<text transform="translate(1172.0 1188.5) scale(0.880 1.000)" font-size="46" class="it">10</text>
<text transform="translate(1362.4 1228.0) scale(1.000 1.020)" font-size="72">6.0</text>
<text transform="translate(1462.9 1218.0) scale(1.000 1.000)" font-size="40" class="sans" font-weight="bold">×</text>
<text transform="translate(1495.9 1228.0) scale(0.980 1.020)" font-size="72">10</text>
<text transform="translate(1566.4 1188.5) scale(0.880 1.000)" font-size="46" class="it">10</text>
</g>
<g id="titles">
<text transform="translate(75 733.5) rotate(-90) skewX(-8) scale(0.965 1.04)" font-size="72" class="it">A/A</text>
<text transform="translate(103.5 622) rotate(-90) skewX(-4)" font-size="56.5" class="it">0</text>
<text transform="translate(866.5 1373.0) scale(1.120 1.020)" font-size="82" class="it">γ</text>
<text transform="translate(898.0 1332.0) scale(1.000 1.020)" font-size="47">2</text>
<text transform="translate(926.0 1373.0) scale(1.000 1.020)" font-size="82" class="it">δ</text>
<text transform="translate(963.0 1332.0) scale(1.000 1.020)" font-size="47">2</text>
<text transform="translate(989.0 1373.0) scale(1.000 1.020)" font-size="82" class="it">t</text>
<text transform="translate(1011.0 1401.0) scale(1.000 1.020)" font-size="52" class="it">d</text>
<text transform="translate(1042.0 1373.0) scale(1.000 1.020)" font-size="82">g</text>
<text transform="translate(1084.0 1332.0) scale(1.000 1.020)" font-size="47">2</text>
</g>
</g>
</svg>
</body></html>
